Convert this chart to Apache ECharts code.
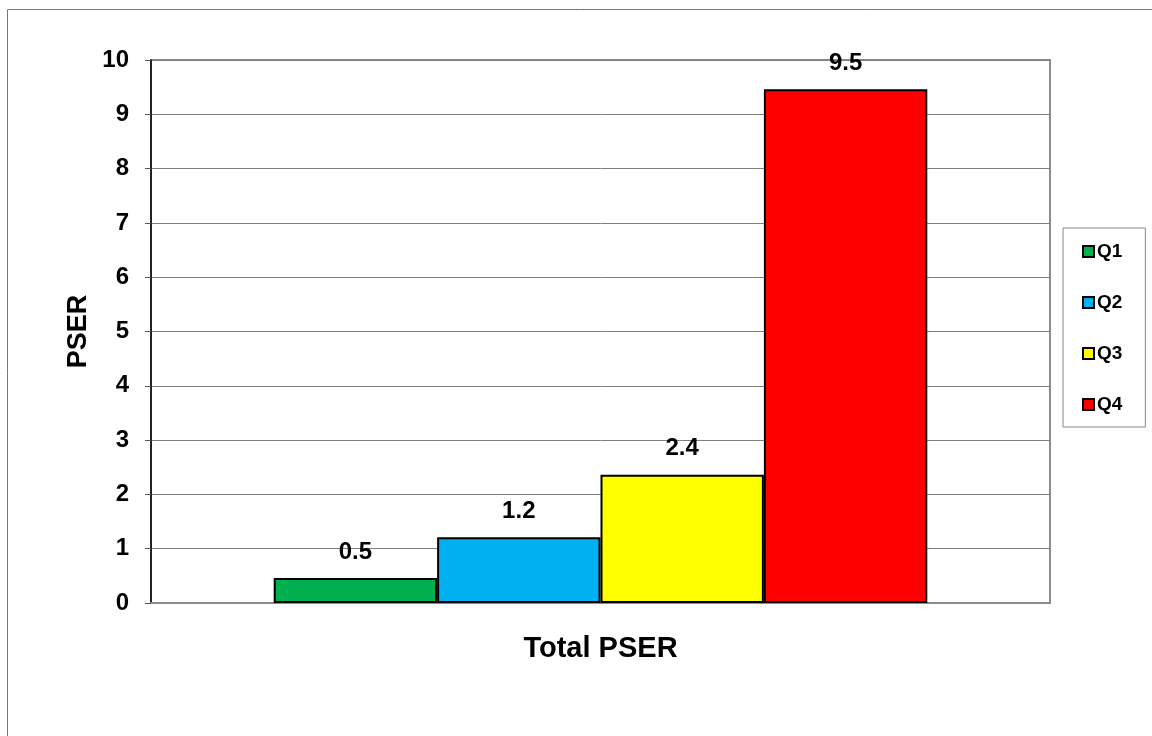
<!DOCTYPE html>
<html>
<head>
<meta charset="utf-8">
<script src="https://cdn.jsdelivr.net/npm/echarts@6/dist/echarts.min.js"></script>
<style>html,body{margin:0;padding:0;background:#fff}#c{width:1152px;height:736px}</style>
</head>
<body>
<div id="c"></div>
<script>
const categories = ['Total PSER'];
const seriesNames = ['Q1', 'Q2', 'Q3', 'Q4'];
const q1 = [0.46];
const q2 = [1.21];
const q3 = [2.36];
const q4 = [9.46];
const seriesColors = ['#00B050', '#00B0F0', '#FFFF00', '#FF0000'];
const yTicks = [0, 1, 2, 3, 4, 5, 6, 7, 8, 9, 10];

const FONT = '"Liberation Sans", Arial, sans-serif';
const values = [q1, q2, q3, q4];
const chart = echarts.init(document.getElementById('c'), null, {renderer: 'canvas'});
chart.setOption({
  animation: false,
  backgroundColor: '#fff',
  textStyle: {fontFamily: FONT},
  graphic: [{
    type: 'rect', shape: {x: 7.5, y: 9.5, width: 1300, height: 900},
    style: {fill: 'none', stroke: '#777', lineWidth: 1}, silent: true, z: -10
  }],
  grid: {left: 151, top: 60, right: 102, bottom: 133, show: true, borderColor: '#8c8c8c', borderWidth: 2, backgroundColor: 'transparent'},
  legend: {
    orient: 'vertical', left: 1063, top: 228,
    data: seriesNames,
    itemWidth: 11, itemHeight: 11, itemGap: 32,
    padding: [14, 23, 13, 19],
    borderColor: '#888', borderWidth: 1,
    icon: 'rect',
    textStyle: {fontFamily: FONT, fontWeight: 'bold', fontSize: 19, color: '#000', padding: [0, 0, 0, -2]}
  },
  xAxis: {
    type: 'category', data: categories,
    axisLine: {show: true, lineStyle: {color: '#8c8c8c', width: 2}},
    axisTick: {show: false}, axisLabel: {show: false},
    name: 'Total PSER', nameLocation: 'middle', nameGap: 31, nameMoveOverlap: false,
    nameTextStyle: {fontFamily: FONT, fontWeight: 'bold', fontSize: 29, color: '#000'}
  },
  yAxis: {
    type: 'value', min: yTicks[0], max: yTicks[yTicks.length - 1], interval: 1,
    axisLine: {show: true, lineStyle: {color: '#000', width: 1.5}},
    axisTick: {show: true, length: 6, lineStyle: {color: '#555'}},
    axisLabel: {fontFamily: FONT, fontWeight: 'bold', fontSize: 24, color: '#000', margin: 22},
    splitLine: {lineStyle: {color: '#7f7f7f', width: 1}},
    name: 'PSER', nameLocation: 'middle', nameGap: 59, nameRotate: 90, nameMoveOverlap: false,
    nameTextStyle: {fontFamily: FONT, fontWeight: 'bold', fontSize: 27, color: '#000'}
  },
  series: seriesNames.map((n, i) => ({
    name: n, type: 'bar', data: values[i],
    barGap: '0%', barCategoryGap: '27.3%',
    itemStyle: {color: seriesColors[i], borderColor: '#000', borderWidth: 2},
    label: {
      show: true, position: 'top', distance: 14,
      formatter: p => p.value.toFixed(1),
      fontFamily: FONT, fontWeight: 'bold', fontSize: 24, color: '#000'
    }
  }))
});
</script>
</body>
</html>
